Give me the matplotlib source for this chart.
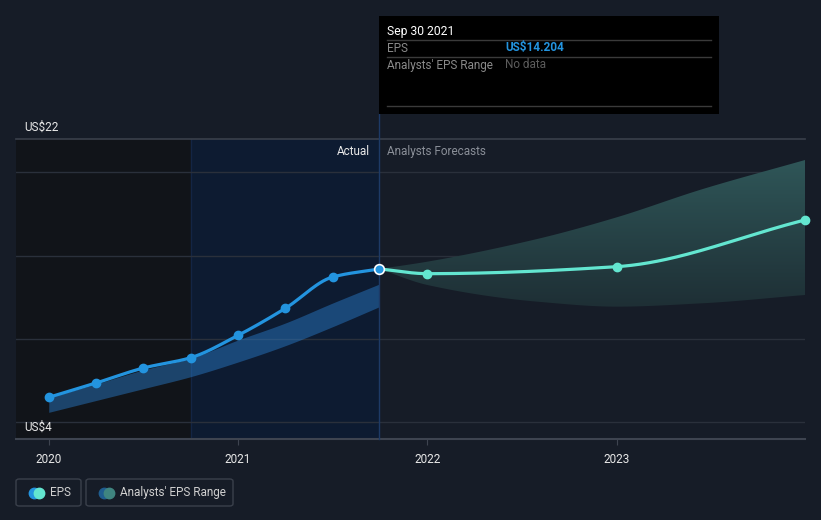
import numpy as np
import matplotlib
matplotlib.use("Agg")
import matplotlib.pyplot as plt
from matplotlib.patches import FancyBboxPatch, Rectangle, Polygon

plt.rcParams['font.family'] = ['Roboto', 'DejaVu Sans']

W, H = 821, 520

# reported EPS, quarterly (US$)
actual_dates = [2020.0, 2020.25, 2020.5, 2020.75, 2021.0, 2021.25, 2021.5, 2021.747]
actual_eps = [6.50, 7.36, 8.26, 8.88, 10.22, 11.84, 13.72, 14.204]

# analysts' EPS range over the past
past_hi = [6.50, 7.30, 8.15, 8.85, 9.94, 10.96, 12.16, 13.30]
past_lo = [5.60, 6.31, 7.02, 7.74, 8.62, 9.60, 10.74, 11.94]

# analysts' forecasts
fc_dates = [2021.747, 2022.0, 2023.0, 2023.995]
fc_eps = [14.204, 13.92, 14.34, 17.14]

fc_range_dates = [2021.747, 2022.0, 2022.58, 2023.0, 2023.45, 2023.995]
fc_hi = [14.204, 14.64, 16.00, 17.30, 18.98, 20.74]
fc_lo = [14.204, 13.24, 12.24, 11.94, 12.14, 12.64]

year_ticks = [2020, 2021, 2022, 2023]
y_min, y_max = 4, 22
gridlines = [5, 10, 15, 20]

BG = '#161c27'


def smooth(xs, ys, n=200):
    # monotone cubic (Fritsch-Carlson) curve through the points, for drawing only
    x = np.asarray(xs, float)
    y = np.asarray(ys, float)
    h = np.diff(x)
    d = np.diff(y) / h
    m = np.zeros_like(y)
    m[0], m[-1] = d[0], d[-1]
    for i in range(1, len(x) - 1):
        if d[i - 1] * d[i] > 0:
            w1 = 2 * h[i] + h[i - 1]
            w2 = h[i] + 2 * h[i - 1]
            m[i] = (w1 + w2) / (w1 / d[i - 1] + w2 / d[i])
    xx = np.linspace(x[0], x[-1], n)
    idx = np.clip(np.searchsorted(x, xx) - 1, 0, len(x) - 2)
    t = (xx - x[idx]) / h[idx]
    h00 = 2 * t**3 - 3 * t**2 + 1
    h10 = t**3 - 2 * t**2 + t
    h01 = -2 * t**3 + 3 * t**2
    h11 = t**3 - t**2
    yy = h00 * y[idx] + h10 * h[idx] * m[idx] + h01 * y[idx + 1] + h11 * h[idx] * m[idx + 1]
    return xx, yy


def fx(px):
    return px / W


def fy(py):
    return 1 - py / H


fig = plt.figure(figsize=(W / 100, H / 100), dpi=100)
fig.patch.set_facecolor(BG)

ax = fig.add_axes([fx(16), fy(439), fx(805) - fx(16), fy(139) - fy(439)])
ax.set_facecolor(BG)
x0, x1 = 2019.827, 2023.995
ax.set_xlim(x0, x1)
ax.set_ylim(y_min, y_max)

# past-year highlight and older history
ax.axvspan(x0, 2020.75, color='#111419', zorder=0, lw=0)
ax.axvspan(2020.75, 2021.747, color='#0d1b31', zorder=0, lw=0)
ax.axvline(2020.75, color='#132544', lw=1, zorder=1)

for g in gridlines:
    ax.axhline(g, color='#2a303b', lw=1, zorder=1)
ax.axhline(y_max, color='#3a404b', lw=1.2, zorder=1, clip_on=False)

for s in ax.spines.values():
    s.set_visible(False)
ax.axhline(y_min, color='#3e4450', lw=1.5, zorder=3, clip_on=False)

ax.set_yticks([])
ax.set_xticks(year_ticks)
ax.set_xticklabels([str(y) for y in year_ticks], color='#e8e8e8', fontsize=8.5)
ax.tick_params(axis='x', length=4, color='#3e4450', pad=6)

# past range band
bx, bhi = smooth(actual_dates, past_hi)
_, blo = smooth(actual_dates, past_lo)
ax.fill_between(bx, blo, bhi, color='#2a7fd0', alpha=0.45, lw=0, zorder=2)

# forecast range band with vertical gradient
fxs, fhi = smooth(fc_range_dates, fc_hi)
_, flo = smooth(fc_range_dates, fc_lo)
verts = np.vstack([np.column_stack([fxs, fhi]), np.column_stack([fxs[::-1], flo[::-1]])])
poly = Polygon(verts, closed=True, facecolor='none', edgecolor='none')
ax.add_patch(poly)
top_c = np.array([0x2f, 0x56, 0x58]) / 255
bot_c = np.array([0x1e, 0x2f, 0x35]) / 255
grad = np.linspace(0, 1, 256)[:, None]
img = top_c[None, None, :] * (1 - grad[..., None]) + bot_c[None, None, :] * grad[..., None]
img = np.repeat(img, 2, axis=1)
im = ax.imshow(img, extent=[fc_range_dates[0], fc_range_dates[-1], min(fc_lo), max(fc_hi)],
               aspect='auto', origin='upper', zorder=2, interpolation='bilinear')
im.set_clip_path(poly)

# vertical marker for the latest report
ax.plot([2021.747, 2021.747], [y_min, y_max + 1.5], color='#1d3a66', lw=1, zorder=3, clip_on=False)

# EPS lines
ex, ey = smooth(actual_dates, actual_eps)
ax.plot(ex, ey, color='#2394df', lw=2.3, zorder=5, solid_capstyle='round')
ax.plot(actual_dates[:-1], actual_eps[:-1], 'o', color='#2394df', ms=6, zorder=6)
cx, cy = smooth(fc_dates, fc_eps)
ax.plot(cx, cy, color='#63e6d0', lw=2.3, zorder=5, solid_capstyle='round')
ax.plot(fc_dates[1:], fc_eps[1:], 'o', color='#63e6d0', ms=6, zorder=6, clip_on=False)
ax.plot(actual_dates[-1:], actual_eps[-1:], 'o', color='#2394df', ms=7,
        mec='white', mew=1.2, zorder=7)

# section labels
ax.text(2021.747 - 0.05, 21.25, 'Actual', color='#e8e8e8', fontsize=8.5, ha='right', va='center')
ax.text(2021.747 + 0.04, 21.25, 'Analysts Forecasts', color='#8a8f98', fontsize=8.5,
        ha='left', va='center')

# y labels
fig.text(fx(24), fy(127), 'US$22', color='#e8e8e8', fontsize=8.5, va='center')
fig.text(fx(24), fy(427), 'US$4', color='#e8e8e8', fontsize=8.5, va='center')

# tooltip
fig.patches.append(Rectangle((fx(379), fy(114)), fx(719) - fx(379), fy(16) - fy(114),
                             transform=fig.transFigure, facecolor='black', edgecolor='none', zorder=10))
for ly in [40, 57, 106]:
    fig.add_artist(plt.Line2D([fx(387), fx(711)], [fy(ly), fy(ly)], color='#3a3a3a', lw=1, zorder=11))
fig.text(fx(387), fy(31), 'Sep 30 2021', color='white', fontsize=8.7, va='center', zorder=12)
fig.text(fx(387), fy(48), 'EPS', color='#8a8a8a', fontsize=8.5, va='center', zorder=12)
fig.text(fx(505), fy(48), 'US$14.204', color='#2394df', fontsize=8.5, fontweight='bold',
         va='center', zorder=12)
fig.text(fx(387), fy(65), "Analysts' EPS Range", color='#8a8a8a', fontsize=8.5, va='center', zorder=12)
fig.text(fx(505), fy(65), 'No data', color='#5c5c5c', fontsize=8.5, va='center', zorder=12)

# legend
def legend_box(x, w, label, c1, c2):
    fig.patches.append(FancyBboxPatch((fx(x), fy(506)), fx(w), fy(479) - fy(506),
                                      boxstyle='round,pad=0,rounding_size=0.004',
                                      transform=fig.transFigure, facecolor='none',
                                      edgecolor='#3a404b', lw=1))
    fig.add_artist(plt.Line2D([fx(x + 18)], [fy(492.5)], marker='o', ms=7.5, color=c1, lw=0))
    fig.add_artist(plt.Line2D([fx(x + 23)], [fy(492.5)], marker='o', ms=7.5, color=c2, lw=0))
    fig.text(fx(x + 34), fy(492.5), label, color='#d0d0d0', fontsize=8.5, va='center')

legend_box(16, 65, 'EPS', '#2394df', '#63e6d0')
legend_box(86, 147, "Analysts' EPS Range", '#1f5d8f', '#3f8580')

fig.savefig('out.png', dpi=100, facecolor=BG)
